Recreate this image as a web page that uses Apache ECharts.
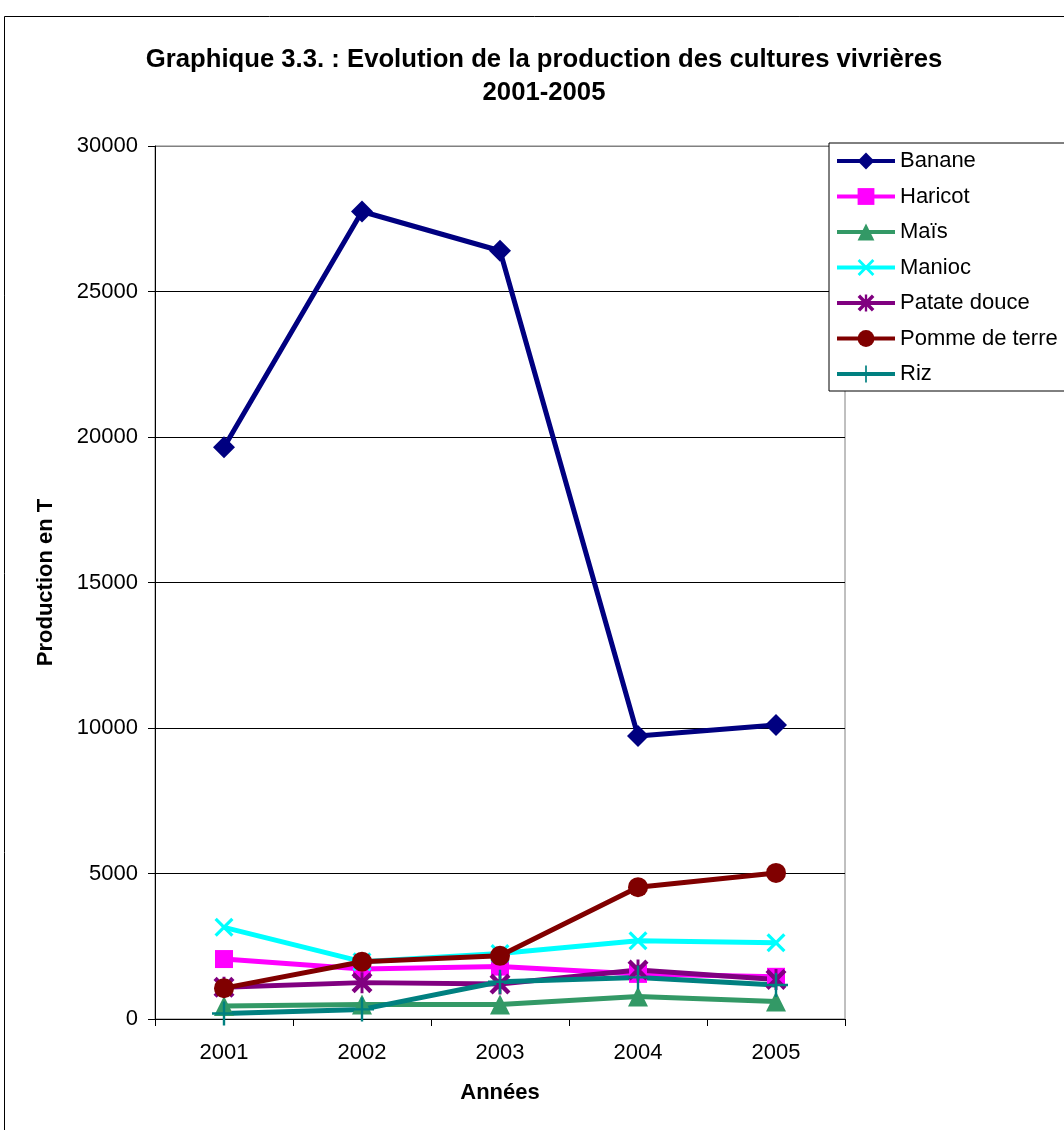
<!DOCTYPE html>
<html>
<head>
<meta charset="utf-8">
<script src="https://cdn.jsdelivr.net/npm/echarts@6/dist/echarts.min.js"></script>
<style>
html,body{margin:0;padding:0;background:#fff;}
#chart{width:1064px;height:1130px;}
</style>
</head>
<body>
<div id="chart"></div>
<script>
var years = ['2001', '2002', '2003', '2004', '2005'];
var seriesNames = ['Banane', 'Haricot', 'Maïs', 'Manioc', 'Patate douce', 'Pomme de terre', 'Riz'];
var banane = [19650, 27750, 26400, 9725, 10100];
var haricot = [2060, 1720, 1800, 1550, 1450];
var mais = [450, 500, 500, 770, 600];
var manioc = [3150, 1970, 2250, 2690, 2620];
var patateDouce = [1090, 1250, 1200, 1680, 1360];
var pommeDeTerre = [1060, 1970, 2170, 4530, 5020];
var riz = [190, 330, 1280, 1430, 1170];
var titleLines = ['Graphique 3.3. : Evolution de la production des cultures vivrières', '2001-2005'];
var yAxisTitle = 'Production en T';
var xAxisTitle = 'Années';

var FONT = 'Arial, "Liberation Sans", sans-serif';
var xPath = 'path://M0,1.2 L1.2,0 L5,3.8 L8.8,0 L10,1.2 L6.2,5 L10,8.8 L8.8,10 L5,6.2 L1.2,10 L0,8.8 L3.8,5 Z';
var plusPath = 'path://M4.5,0 L5.5,0 L5.5,4.5 L10,4.5 L10,5.5 L5.5,5.5 L5.5,10 L4.5,10 L4.5,5.5 L0,5.5 L0,4.5 L4.5,4.5 Z';
var starPath = 'path://M0,1.5 L1.5,0 L5,3.5 L8.5,0 L10,1.5 L6.5,5 L10,8.5 L8.5,10 L5,6.5 L1.5,10 L0,8.5 L3.5,5 Z M4.3,0 L5.7,0 L5.7,10 L4.3,10 Z';

var dataSets = [banane, haricot, mais, manioc, patateDouce, pommeDeTerre, riz];
var colors = ['#000080', '#FF00FF', '#339966', '#00FFFF', '#800080', '#800000', '#008080'];
var symbols = ['diamond', 'rect', 'triangle', xPath, starPath, 'circle', plusPath];
var sizes = [22, 18, 20, 19, 21, 20, 24];

var series = seriesNames.map(function (n, i) {
  return {
    name: n,
    type: 'line',
    data: dataSets[i],
    symbol: symbols[i],
    symbolSize: sizes[i],
    showAllSymbol: true,
    lineStyle: { color: colors[i], width: 5 },
    itemStyle: { color: colors[i], borderWidth: 0 },
    emphasis: { disabled: true }
  };
});

var chart = echarts.init(document.getElementById('chart'), null, { renderer: 'canvas' });
chart.setOption({
  animation: false,
  backgroundColor: '#fff',
  textStyle: { fontFamily: FONT },
  graphic: [
    { type: 'rect', shape: { x: 4.5, y: 16.5, width: 1100, height: 1200 }, style: { fill: 'none', stroke: '#000', lineWidth: 1 }, z: 0 },
    { type: 'text', x: 544, y: 60, style: { text: titleLines[0], font: 'bold 25.7px ' + FONT, fill: '#000', align: 'center', verticalAlign: 'middle' } },
    { type: 'text', x: 544, y: 93, style: { text: titleLines[1], font: 'bold 25.7px ' + FONT, fill: '#000', align: 'center', verticalAlign: 'middle' } }
  ],
  legend: {
    orient: 'vertical',
    left: 829,
    top: 143,
    padding: [7, 60, 6, 6],
    itemWidth: 58,
    itemHeight: 21,
    itemGap: 13.5,
    backgroundColor: '#fff',
    borderColor: '#000',
    borderWidth: 1,
    borderRadius: 0,
    lineStyle: { width: 4 },
    textStyle: { fontSize: 22, color: '#000', fontFamily: FONT },
    data: seriesNames
  },
  grid: { left: 155, top: 146, width: 690, height: 873, show: true, borderColor: '#808080', borderWidth: 1, backgroundColor: 'transparent' },
  xAxis: {
    type: 'category',
    data: years,
    boundaryGap: true,
    name: xAxisTitle,
    nameLocation: 'middle',
    nameGap: 63,
    nameTextStyle: { fontSize: 22, fontWeight: 'bold', color: '#000', fontFamily: FONT, verticalAlign: 'top' },
    axisLine: { lineStyle: { color: '#000', width: 1 } },
    axisTick: { show: true, length: 7, interval: 0, lineStyle: { color: '#000' } },
    axisLabel: { fontSize: 22, color: '#000', margin: 23, fontFamily: FONT },
    splitLine: { show: false }
  },
  yAxis: {
    type: 'value',
    min: 0,
    max: 30000,
    interval: 5000,
    name: yAxisTitle,
    nameLocation: 'middle',
    nameRotate: 90,
    nameGap: 98,
    nameTextStyle: { fontSize: 22, fontWeight: 'bold', color: '#000', fontFamily: FONT },
    axisLine: { show: true, lineStyle: { color: '#000', width: 1 } },
    axisTick: { show: true, length: 7, inside: false, lineStyle: { color: '#000' } },
    axisLabel: { fontSize: 22, color: '#000', margin: 17, fontFamily: FONT, formatter: function (v) { return String(v); } },
    splitLine: { show: true, lineStyle: { color: ['#000', '#000', '#000', '#000', '#000', '#000', '#808080'], width: 1 } }
  },
  series: series
});
</script>
</body>
</html>
